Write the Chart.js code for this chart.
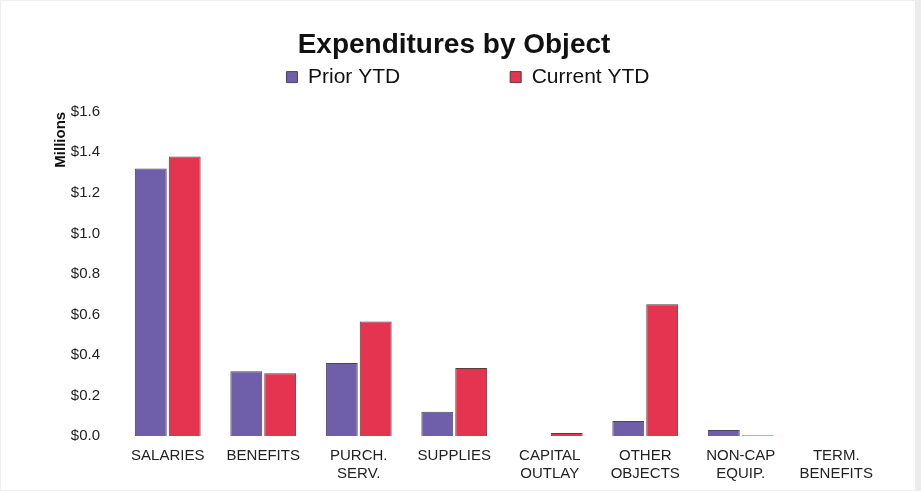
<!DOCTYPE html>
<html>
<head>
<meta charset="utf-8">
<script src="https://cdn.jsdelivr.net/npm/chart.js@4"></script>
<style>
  html, body { margin: 0; padding: 0; background: #fff; }
  .wrap { width: 914px; height: 489px; border: 1px solid #eeeeee; border-right: 6px solid #ececec; }
</style>
</head>
<body>
<div class="wrap"><canvas id="myChart" width="914" height="489"></canvas></div>
<script>
const categorias = [
  'SALARIES', 'BENEFITS', ['PURCH.', 'SERV.'], 'SUPPLIES',
  ['CAPITAL', 'OUTLAY'], ['OTHER', 'OBJECTS'], ['NON-CAP', 'EQUIP.'], ['TERM.', 'BENEFITS']
];
// valores em milhões
const priorYTD   = [1.32, 0.32, 0.36, 0.12, 0.0, 0.074, 0.03, 0.0];
const currentYTD = [1.38, 0.31, 0.565, 0.335, 0.015, 0.65, 0.004, 0.0];
const ticksY = [0, 0.2, 0.4, 0.6, 0.8, 1.0, 1.2, 1.4, 1.6];

Chart.defaults.font.family = '"Liberation Sans", Arial, sans-serif';
Chart.defaults.color = '#222';

const ctx = document.getElementById('myChart');

new Chart(ctx, {
  type: 'bar',
  data: {
    labels: categorias,
    datasets: [{
      label: 'Prior YTD',
      data: priorYTD,
      backgroundColor: '#6f5fab',
      borderColor: '#4a4458',
      borderWidth: 1,
      categoryPercentage: 0.71,
      barPercentage: 0.94
    }, {
      label: 'Current YTD',
      data: currentYTD,
      backgroundColor: '#e5344f',
      borderColor: '#5a3a40',
      borderWidth: 1,
      categoryPercentage: 0.71,
      barPercentage: 0.94
    }]
  },
  options: {
    responsive: false,
    animation: false,
    layout: { padding: { left: 51, right: 31, top: 27, bottom: 4 } },
    plugins: {
      title: {
        display: true,
        // os espaços no fim puxam o título um pouco para a esquerda
        text: 'Expenditures by Object\u2002\u2002',
        font: { size: 28, weight: 'bold' },
        color: '#111',
        padding: 0
      },
      // espaço vazio entre a legenda e o gráfico
      subtitle: {
        display: true,
        text: '',
        weight: 900,
        font: { size: 1 },
        padding: { top: 13, bottom: 0 }
      },
      legend: {
        labels: {
          boxWidth: 11,
          boxHeight: 11,
          padding: 5,
          font: { size: 21 },
          color: '#111',
          generateLabels: chart => {
            const itens = Chart.defaults.plugins.legend.labels.generateLabels(chart);
            itens[0].text += ' '.repeat(18);
            return itens;
          }
        }
      },
      tooltip: { enabled: false }
    },
    scales: {
      x: {
        grid: { display: false },
        border: { display: false },
        ticks: { font: { size: 15 }, color: '#222', maxRotation: 0, autoSkip: false, padding: 3 }
      },
      y: {
        min: 0,
        max: 1.6,
        afterBuildTicks: axis => { axis.ticks = ticksY.map(v => ({ value: v })); },
        afterFit: axis => { axis.width = 68; },
        grid: { display: false },
        border: { display: false },
        title: {
          display: true,
          text: 'Millions',
          align: 'end',
          font: { size: 15, weight: 'bold' },
          color: '#111',
          padding: { top: 0, bottom: 3 }
        },
        ticks: {
          font: { size: 15 },
          color: '#222',
          padding: 12,
          callback: v => '$' + Number(v).toFixed(1)
        }
      }
    }
  }
});
</script>
</body>
</html>
